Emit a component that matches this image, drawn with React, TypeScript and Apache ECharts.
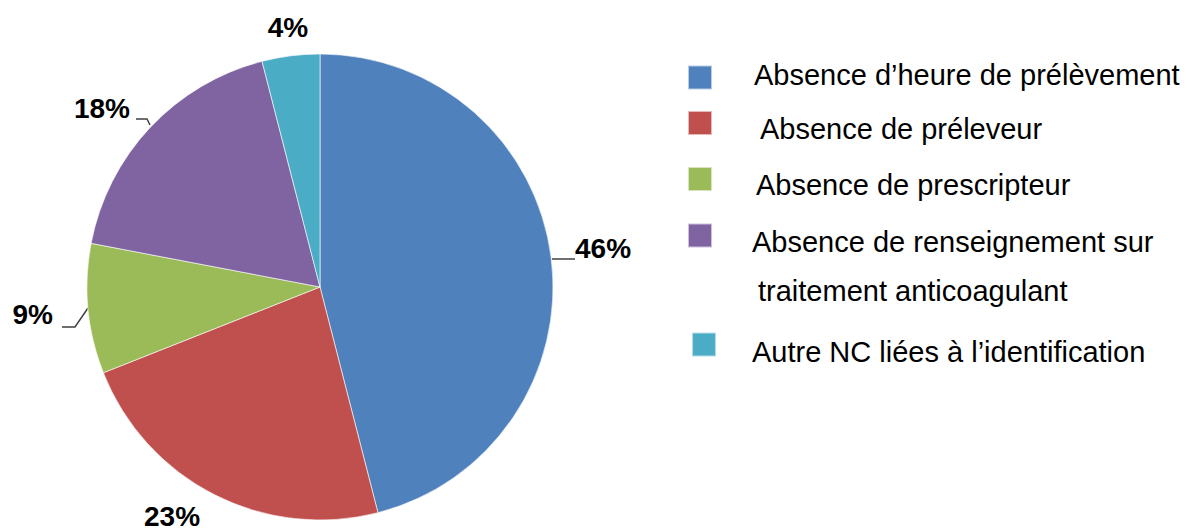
import React, { useEffect, useRef } from "react";
import * as echarts from "echarts";

const categories = [
  "Absence d’heure de prélèvement",
  "Absence de préleveur",
  "Absence de prescripteur",
  "Absence de renseignement sur\ntraitement anticoagulant",
  "Autre NC liées à l’identification",
];
const values = [46, 23, 9, 18, 4];
const colors = ["#4F81BD", "#C0504D", "#9BBB59", "#8064A2", "#4BACC6"];

export default function App() {
  const ref = useRef<HTMLDivElement>(null);
  useEffect(() => {
    if (!ref.current) return;
    const chart = echarts.init(ref.current, null, { renderer: "svg" });
    const font = "'Liberation Sans', Arial, sans-serif";
    // label placement: [x, y, align, verticalAlign, linePoints|null]
    const labelPlace: any[] = [
      [575, 248, "left", "middle", [[552, 259], [575, 259]]],
      [172, 516, "center", "middle", null],
      [53, 314, "right", "middle", [[88, 308], [75, 327], [62, 327]]],
      [130, 108, "right", "middle", [[150, 125], [147, 119], [136, 119]]],
      [288, 27, "center", "middle", null],
    ];
    // legend: [iconLeft, legendTop, textPadLeft, textShift]
    const legendPlace: number[][] = [
      [687, 60, 37, -3],
      [687, 106.5, 43, 5.5],
      [687, 162.5, 39, 5.5],
      [687, 186, 35, 6.5],
      [691, 328, 31, 7],
    ];
    const legends = categories.map((name, i) => {
      const [lx, top, pad, s] = legendPlace[i];
      const multi = name.includes("\n");
      let formatter: string;
      const rich: any = {
        t: { fontFamily: font, fontSize: 29, color: "#000", lineHeight: 32 },
        t2: { fontFamily: font, fontSize: 29, color: "#000", lineHeight: 49, padding: [0, 0, 0, 6] },
        t1: { fontFamily: font, fontSize: 29, color: "#000", lineHeight: 49 },
        e: { fontSize: 1, lineHeight: Math.max(1, 2 * Math.abs(s)) },
        e2: { fontSize: 1, lineHeight: 62 },
      };
      if (multi) {
        const [a, b] = name.split("\n");
        formatter = `{e2| }\n{t1|${a}}\n{t2|${b}}`;
      } else {
        formatter = s >= 0 ? `{e| }\n{t|${name}}` : `{t|${name}}\n{e| }`;
      }
      return {
        data: [name],
        left: lx,
        top,
        orient: "vertical",
        padding: 0,
        itemWidth: 24,
        itemHeight: 24,
        icon: "rect",
        selectedMode: false,
        formatter: () => formatter,
        textStyle: {
          fontFamily: font,
          fontSize: 29,
          color: "#000",
          padding: [0, 0, 0, pad],
          rich,
        },
      };
    });
    chart.setOption({
      animation: false,
      color: colors,
      legend: legends,
      series: [
        {
          type: "pie",
          center: [320, 287],
          radius: 233,
          startAngle: 90,
          clockwise: true,
          itemStyle: { borderColor: "rgba(255,255,255,0.6)", borderWidth: 1 },
          label: {
            show: true,
            position: "outside",
            formatter: "{c}%",
            fontFamily: font,
            fontWeight: "bold",
            fontSize: 28,
            color: "#000",
          },
          labelLine: {
            show: true,
            length: 10,
            length2: 10,
            smooth: false,
            lineStyle: { color: "#404040", width: 1.5 },
          },
          labelLayout: (params: any) => {
            const p = labelPlace[params.dataIndex];
            const res: any = { x: p[0], y: p[1], align: p[2], verticalAlign: p[3] };
            if (p[4]) res.labelLinePoints = p[4];
            return res;
          },
          data: categories.map((name, i) => ({
            name,
            value: values[i],
            labelLine: { show: labelPlace[i][4] != null },
          })),
        },
      ],
    });
    return () => chart.dispose();
  }, []);
  return (
    <div
      ref={ref}
      style={{ position: "fixed", left: 0, top: 0, width: 1187, height: 529, background: "#fff" }}
    />
  );
}
